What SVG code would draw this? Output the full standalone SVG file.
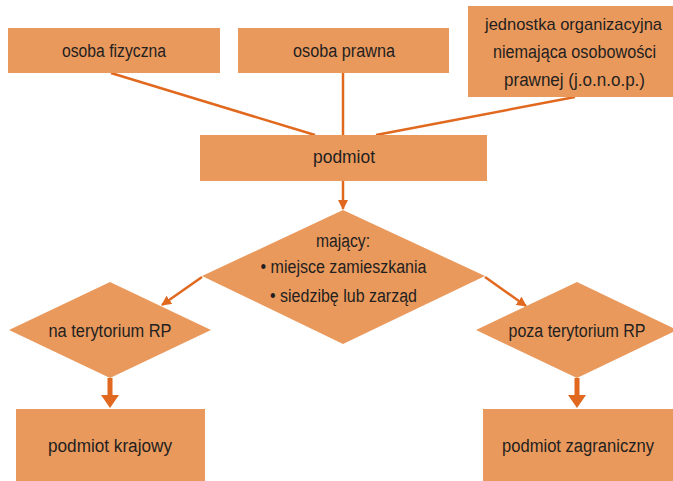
<svg xmlns="http://www.w3.org/2000/svg" width="673" height="481" viewBox="0 0 673 481">
<style>
.n{fill:#EA995D}
.t{font-family:"Liberation Sans",Arial,sans-serif;font-size:18px;fill:#231F20;text-anchor:middle}
.s{font-size:17px}
.c{stroke:#E1691F;stroke-width:2.5;fill:none}
</style>
<defs>
<marker id="ah" viewBox="0 0 10 10" refX="9" refY="5" markerWidth="4" markerHeight="4" orient="auto" markerUnits="strokeWidth">
<path d="M0,0 L10,5 L0,10 z" fill="#E1691F"/>
</marker>
</defs>
<rect width="673" height="481" fill="#fff"/>
<g id="connectors">
<line class="c" x1="111" y1="73" x2="315" y2="135"/>
<line class="c" x1="343" y1="73" x2="343" y2="135"/>
<line class="c" x1="575" y1="97" x2="376" y2="135"/>
<line class="c" x1="343" y1="181" x2="343" y2="209" marker-end="url(#ah)"/>
<line class="c" x1="202" y1="277" x2="162" y2="305" marker-end="url(#ah)"/>
<line class="c" x1="485" y1="277" x2="526" y2="306" marker-end="url(#ah)"/>
<path d="M107.5,378 h5 v17 h6.5 l-9,13 l-9,-13 h6.5 z" fill="#E1691F"/>
<path d="M574.5,378 h5 v17 h6.5 l-9,13 l-9,-13 h6.5 z" fill="#E1691F"/>
</g>
<g id="n1"><rect class="n" x="8" y="28" width="212" height="45"/>
<text class="t" x="114" y="57" textLength="104" lengthAdjust="spacingAndGlyphs">osoba fizyczna</text></g>
<g id="n2"><rect class="n" x="238" y="28" width="211" height="45"/>
<text class="t" x="344" y="57" textLength="102" lengthAdjust="spacingAndGlyphs">osoba prawna</text></g>
<g id="n3"><rect class="n" x="468" y="6" width="205" height="91"/>
<text class="t s" x="573.5" y="29.5" textLength="177" lengthAdjust="spacingAndGlyphs">jednostka organizacyjna</text>
<text class="t" x="574.5" y="57.5" textLength="163" lengthAdjust="spacingAndGlyphs">niemająca osobowości</text>
<text class="t" x="574.5" y="86" textLength="141" lengthAdjust="spacingAndGlyphs">prawnej (j.o.n.o.p.)</text></g>
<g id="n4"><rect class="n" x="200" y="135" width="287" height="46"/>
<text class="t" x="344" y="163" textLength="62" lengthAdjust="spacingAndGlyphs">podmiot</text></g>
<g id="n5"><polygon class="n" points="343,210 485,276 343,344 202,276"/>
<text class="t" x="343" y="247" textLength="54" lengthAdjust="spacingAndGlyphs">mający:</text>
<text class="t" x="343.5" y="273" textLength="166" lengthAdjust="spacingAndGlyphs">• miejsce zamieszkania</text>
<text class="t" x="343.5" y="301.5" textLength="147" lengthAdjust="spacingAndGlyphs">• siedzibę lub zarząd</text></g>
<g id="n6"><polygon class="n" points="110,282 211,330 110,378 9,330"/>
<text class="t" x="110" y="337" textLength="123" lengthAdjust="spacingAndGlyphs">na terytorium RP</text></g>
<g id="n7"><polygon class="n" points="577,282 677,330 577,378 476,330"/>
<text class="t" x="577" y="337" textLength="137" lengthAdjust="spacingAndGlyphs">poza terytorium RP</text></g>
<g id="n8"><rect class="n" x="16" y="409" width="189" height="72"/>
<text class="t" x="110" y="452" textLength="124" lengthAdjust="spacingAndGlyphs">podmiot krajowy</text></g>
<g id="n9"><rect class="n" x="483" y="409" width="190" height="72"/>
<text class="t" x="578" y="452" textLength="152" lengthAdjust="spacingAndGlyphs">podmiot zagraniczny</text></g>
</svg>
